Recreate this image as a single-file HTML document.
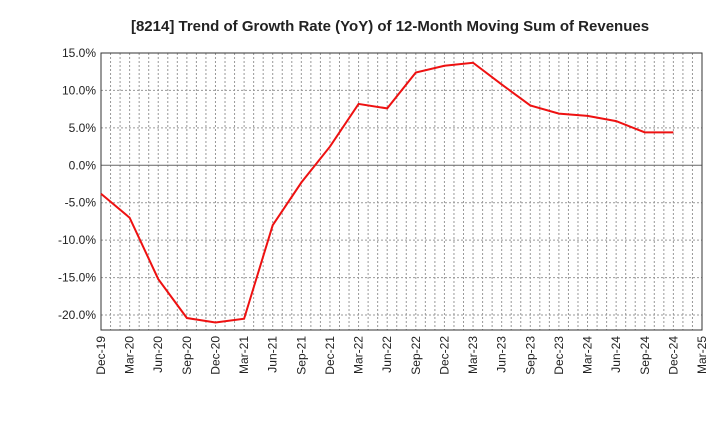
<!DOCTYPE html>
<html><head><meta charset="utf-8"><style>
body{margin:0;background:#fff;font-family:"Liberation Sans",sans-serif}
</style></head><body>
<svg id="chart" width="720" height="440" xmlns="http://www.w3.org/2000/svg">
<text x="390" y="31" text-anchor="middle" font-size="15" font-weight="bold" fill="#222">[8214]  Trend of Growth Rate (YoY) of 12-Month Moving Sum of Revenues</text>
<g id="grid"></g><g id="axes"></g><g id="series"></g>
</svg>
<script>
const categories=["Dec-19","Mar-20","Jun-20","Sep-20","Dec-20","Mar-21","Jun-21","Sep-21","Dec-21","Mar-22","Jun-22","Sep-22","Dec-22","Mar-23","Jun-23","Sep-23","Dec-23","Mar-24","Jun-24","Sep-24","Dec-24","Mar-25"];
const values=[-3.8,-7.0,-15.2,-20.4,-21.0,-20.5,-8.0,-2.3,2.5,8.2,7.6,12.4,13.3,13.7,10.8,8.0,6.9,6.6,5.9,4.4,4.4];
const yTicks=[15,10,5,0,-5,-10,-15,-20];
const yTickLabels=["15.0%","10.0%","5.0%","0.0%","-5.0%","-10.0%","-15.0%","-20.0%"];
const L=101,R=702,T=53,B=330,yMax=15,yMin=-22;
const ns="http://www.w3.org/2000/svg";
const x=i=>L+(R-L)*i/(categories.length-1);
const y=v=>T+(yMax-v)*(B-T)/(yMax-yMin);
function mk(p,t,a){const e=document.createElementNS(ns,t);for(const k in a)e.setAttribute(k,a[k]);p.appendChild(e);return e;}
const grid=document.getElementById('grid'),axes=document.getElementById('axes'),ser=document.getElementById('series');
const nMonths=(categories.length-1)*3;
for(let m=1;m<nMonths;m++){const xx=L+(R-L)*m/nMonths;
const g=mk(grid,'line',{x1:xx,x2:xx,y1:T,y2:B,stroke:'#999','stroke-dasharray':'2,2','stroke-width':1});

}
yTicks.forEach((v,i)=>{const yy=y(v);
const g=mk(grid,'line',{x1:L,x2:R,y1:yy,y2:yy,stroke:v===0?'#666':'#999','stroke-dasharray':v===0?'none':'2,2','stroke-width':1});


const t=mk(axes,'text',{x:L-5,y:yy+4,'text-anchor':'end','font-size':12,fill:'#222'});t.textContent=yTickLabels[i];

});
const fr=mk(axes,'rect',{x:L,y:T,width:R-L,height:B-T,fill:'none',stroke:'#333','stroke-width':1});


categories.forEach((c,i)=>{const xx=x(i);
const t=mk(axes,'text',{x:xx+4,y:B+6,'text-anchor':'end','font-size':12,fill:'#222',transform:`rotate(-90 ${xx+4} ${B+6})`});t.textContent=c;

});
const pl=mk(ser,'polyline',{points:values.map((v,i)=>x(i)+','+y(v)).join(' '),fill:'none',stroke:'#ee1111','stroke-width':2});


</script>
</body></html>
